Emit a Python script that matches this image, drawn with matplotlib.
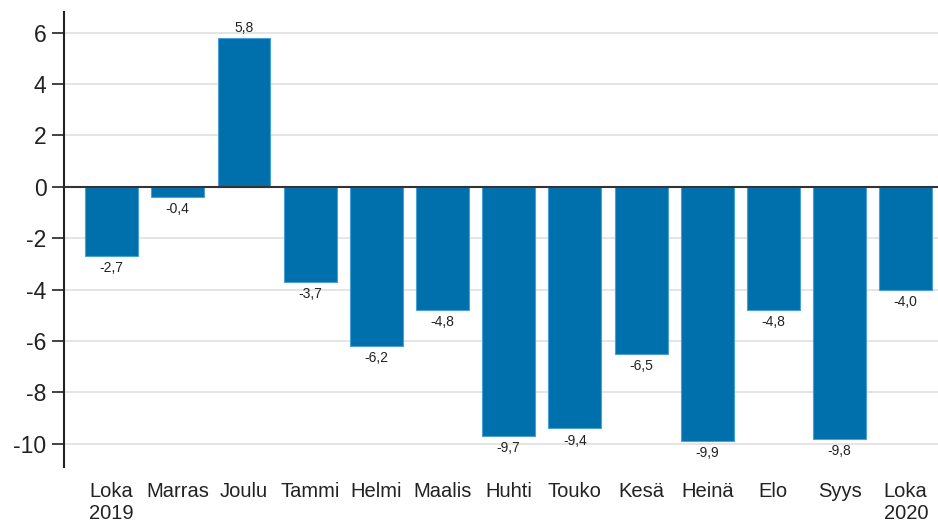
import numpy as np
import matplotlib.pyplot as plt

plt.rcParams['font.family'] = ['Liberation Sans', 'DejaVu Sans']

months = ['Loka\n2019', 'Marras', 'Joulu', 'Tammi', 'Helmi', 'Maalis', 'Huhti',
          'Touko', 'Kesä', 'Heinä', 'Elo', 'Syys', 'Loka\n2020']
values = [-2.7, -0.4, 5.8, -3.7, -6.2, -4.8, -9.7, -9.4, -6.5, -9.9, -4.8, -9.8, -4.0]
yticks = [-10, -8, -6, -4, -2, 0, 2, 4, 6]

fig = plt.figure(figsize=(9.38, 5.27), dpi=100)
ax = fig.add_axes([0.0682, 0.114, 0.932, 0.863])

x = np.arange(len(months))
ax.bar(x, values, width=0.8, color='#0070ad', edgecolor='#4a9fd6', linewidth=0.8, zorder=2)

for xi, v in zip(x, values):
    lab = f'{v:.1f}'.replace('.', ',')
    if v >= 0:
        ax.text(xi, v + 0.12, lab, ha='center', va='bottom', fontsize=10, color='#222222')
    else:
        ax.text(xi, v - 0.2, lab, ha='center', va='top', fontsize=10, color='#222222')

ax.set_xlim(-0.72, 12.49)
ax.set_ylim(-10.9, 6.8)
ax.set_yticks(yticks)
ax.set_yticklabels([str(t) for t in yticks], fontsize=16.5, color='#222222')
ax.set_xticks(x)
ax.set_xticklabels(months, fontsize=14.5, color='#222222', multialignment='left')
ax.tick_params(axis='x', length=0, pad=11)
ax.tick_params(axis='y', length=8.6, width=1.2, color='#222222', pad=4)

ax.grid(axis='y', color='#e0e0e0', linewidth=1.2, zorder=0)
ax.axhline(0, color='#333333', linewidth=1.5, zorder=3)

for s in ['top', 'right', 'bottom']:
    ax.spines[s].set_visible(False)
ax.spines['left'].set_linewidth(1.5)
ax.spines['left'].set_color('#222222')

fig.savefig('out.png', dpi=100)
